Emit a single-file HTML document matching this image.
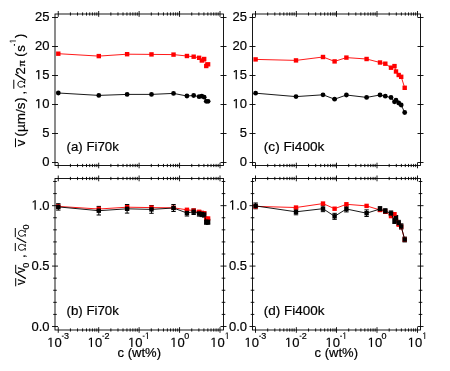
<!DOCTYPE html>
<html><head><meta charset="utf-8"><title>plot</title>
<style>
html,body{margin:0;padding:0;background:#fff;}
svg{display:block;will-change:transform;}
text{font-family:"Liberation Sans",sans-serif;fill:#000;stroke:#000;stroke-width:0.2px;}
.sy{font-family:"Liberation Serif",serif;stroke:none;}
</style></head>
<body>
<svg width="450" height="371" viewBox="0 0 450 371">
<rect x="0" y="0" width="450" height="371" fill="#fff"/>
<g stroke="#000" stroke-width="0.9" fill="none">
<rect x="55.0" y="14.0" width="168.5" height="151.5"/>
<path d="M58.25 11.0V16.8M58.25 162.7V168.3M70.42 12.4V15.6M70.42 163.9V167.1M77.54 12.4V15.6M77.54 163.9V167.1M82.60 12.4V15.6M82.60 163.9V167.1M86.51 12.4V15.6M86.51 163.9V167.1M89.72 12.4V15.6M89.72 163.9V167.1M92.42 12.4V15.6M92.42 163.9V167.1M94.77 12.4V15.6M94.77 163.9V167.1M96.84 12.4V15.6M96.84 163.9V167.1M98.69 11.0V16.8M98.69 162.7V168.3M110.86 12.4V15.6M110.86 163.9V167.1M117.98 12.4V15.6M117.98 163.9V167.1M123.03 12.4V15.6M123.03 163.9V167.1M126.95 12.4V15.6M126.95 163.9V167.1M130.15 12.4V15.6M130.15 163.9V167.1M132.86 12.4V15.6M132.86 163.9V167.1M135.21 12.4V15.6M135.21 163.9V167.1M137.27 12.4V15.6M137.27 163.9V167.1M139.12 11.0V16.8M139.12 162.7V168.3M151.30 12.4V15.6M151.30 163.9V167.1M158.42 12.4V15.6M158.42 163.9V167.1M163.47 12.4V15.6M163.47 163.9V167.1M167.39 12.4V15.6M167.39 163.9V167.1M170.59 12.4V15.6M170.59 163.9V167.1M173.30 12.4V15.6M173.30 163.9V167.1M175.64 12.4V15.6M175.64 163.9V167.1M177.71 12.4V15.6M177.71 163.9V167.1M179.56 11.0V16.8M179.56 162.7V168.3M191.74 12.4V15.6M191.74 163.9V167.1M198.86 12.4V15.6M198.86 163.9V167.1M203.91 12.4V15.6M203.91 163.9V167.1M207.83 12.4V15.6M207.83 163.9V167.1M211.03 12.4V15.6M211.03 163.9V167.1M213.74 12.4V15.6M213.74 163.9V167.1M216.08 12.4V15.6M216.08 163.9V167.1M218.15 12.4V15.6M218.15 163.9V167.1M220.00 11.0V16.8M220.00 162.7V168.3M52.0 162.50H58.0M220.5 162.50H226.5M52.0 133.50H58.0M220.5 133.50H226.5M52.0 104.50H58.0M220.5 104.50H226.5M52.0 75.50H58.0M220.5 75.50H226.5M52.0 46.50H58.0M220.5 46.50H226.5M52.0 17.50H58.0M220.5 17.50H226.5"/>
</g>
<text x="42.27" y="166.30" font-size="13">0</text>
<text x="42.27" y="137.30" font-size="13">5</text>
<path d="M38.13 98.95H39.38V108.30H38.13Z" fill="#000"/><path d="M38.28 99.45L36.31 100.95" stroke="#000" stroke-width="1.10" fill="none"/><text x="42.27" y="108.30" font-size="13">0</text>
<path d="M38.13 69.95H39.38V79.30H38.13Z" fill="#000"/><path d="M38.28 70.45L36.31 71.95" stroke="#000" stroke-width="1.10" fill="none"/><text x="42.27" y="79.30" font-size="13">5</text>
<text x="35.04" y="50.30" font-size="13">20</text>
<text x="35.04" y="21.30" font-size="13">25</text>
<g stroke="#000" stroke-width="0.9" fill="none">
<rect x="252.5" y="14.0" width="168.0" height="151.5"/>
<path d="M255.50 11.0V16.8M255.50 162.7V168.3M267.69 12.4V15.6M267.69 163.9V167.1M274.82 12.4V15.6M274.82 163.9V167.1M279.88 12.4V15.6M279.88 163.9V167.1M283.81 12.4V15.6M283.81 163.9V167.1M287.02 12.4V15.6M287.02 163.9V167.1M289.73 12.4V15.6M289.73 163.9V167.1M292.08 12.4V15.6M292.08 163.9V167.1M294.15 12.4V15.6M294.15 163.9V167.1M296.35 11.0V16.8M296.35 162.7V168.3M308.54 12.4V15.6M308.54 163.9V167.1M315.67 12.4V15.6M315.67 163.9V167.1M320.73 12.4V15.6M320.73 163.9V167.1M324.66 12.4V15.6M324.66 163.9V167.1M327.87 12.4V15.6M327.87 163.9V167.1M330.58 12.4V15.6M330.58 163.9V167.1M332.93 12.4V15.6M332.93 163.9V167.1M335.00 12.4V15.6M335.00 163.9V167.1M336.50 11.0V16.8M336.50 162.7V168.3M348.69 12.4V15.6M348.69 163.9V167.1M355.82 12.4V15.6M355.82 163.9V167.1M360.88 12.4V15.6M360.88 163.9V167.1M364.81 12.4V15.6M364.81 163.9V167.1M368.02 12.4V15.6M368.02 163.9V167.1M370.73 12.4V15.6M370.73 163.9V167.1M373.08 12.4V15.6M373.08 163.9V167.1M375.15 12.4V15.6M375.15 163.9V167.1M377.00 11.0V16.8M377.00 162.7V168.3M389.19 12.4V15.6M389.19 163.9V167.1M396.32 12.4V15.6M396.32 163.9V167.1M401.38 12.4V15.6M401.38 163.9V167.1M405.31 12.4V15.6M405.31 163.9V167.1M408.52 12.4V15.6M408.52 163.9V167.1M411.23 12.4V15.6M411.23 163.9V167.1M413.58 12.4V15.6M413.58 163.9V167.1M415.65 12.4V15.6M415.65 163.9V167.1M417.50 11.0V16.8M417.50 162.7V168.3M249.5 162.50H255.5M417.5 162.50H423.5M249.5 133.50H255.5M417.5 133.50H423.5M249.5 104.50H255.5M417.5 104.50H423.5M249.5 75.50H255.5M417.5 75.50H423.5M249.5 46.50H255.5M417.5 46.50H423.5M249.5 17.50H255.5M417.5 17.50H423.5"/>
</g>
<text x="239.77" y="166.30" font-size="13">0</text>
<text x="239.77" y="137.30" font-size="13">5</text>
<path d="M235.63 98.95H236.88V108.30H235.63Z" fill="#000"/><path d="M235.78 99.45L233.81 100.95" stroke="#000" stroke-width="1.10" fill="none"/><text x="239.77" y="108.30" font-size="13">0</text>
<path d="M235.63 69.95H236.88V79.30H235.63Z" fill="#000"/><path d="M235.78 70.45L233.81 71.95" stroke="#000" stroke-width="1.10" fill="none"/><text x="239.77" y="79.30" font-size="13">5</text>
<text x="232.54" y="50.30" font-size="13">20</text>
<text x="232.54" y="21.30" font-size="13">25</text>
<g stroke="#000" stroke-width="0.9" fill="none">
<rect x="55.0" y="178.5" width="168.5" height="151.5"/>
<path d="M58.25 175.5V181.3M58.25 327.2V332.8M70.42 176.9V180.1M70.42 328.4V331.6M77.54 176.9V180.1M77.54 328.4V331.6M82.60 176.9V180.1M82.60 328.4V331.6M86.51 176.9V180.1M86.51 328.4V331.6M89.72 176.9V180.1M89.72 328.4V331.6M92.42 176.9V180.1M92.42 328.4V331.6M94.77 176.9V180.1M94.77 328.4V331.6M96.84 176.9V180.1M96.84 328.4V331.6M98.69 175.5V181.3M98.69 327.2V332.8M110.86 176.9V180.1M110.86 328.4V331.6M117.98 176.9V180.1M117.98 328.4V331.6M123.03 176.9V180.1M123.03 328.4V331.6M126.95 176.9V180.1M126.95 328.4V331.6M130.15 176.9V180.1M130.15 328.4V331.6M132.86 176.9V180.1M132.86 328.4V331.6M135.21 176.9V180.1M135.21 328.4V331.6M137.27 176.9V180.1M137.27 328.4V331.6M139.12 175.5V181.3M139.12 327.2V332.8M151.30 176.9V180.1M151.30 328.4V331.6M158.42 176.9V180.1M158.42 328.4V331.6M163.47 176.9V180.1M163.47 328.4V331.6M167.39 176.9V180.1M167.39 328.4V331.6M170.59 176.9V180.1M170.59 328.4V331.6M173.30 176.9V180.1M173.30 328.4V331.6M175.64 176.9V180.1M175.64 328.4V331.6M177.71 176.9V180.1M177.71 328.4V331.6M179.56 175.5V181.3M179.56 327.2V332.8M191.74 176.9V180.1M191.74 328.4V331.6M198.86 176.9V180.1M198.86 328.4V331.6M203.91 176.9V180.1M203.91 328.4V331.6M207.83 176.9V180.1M207.83 328.4V331.6M211.03 176.9V180.1M211.03 328.4V331.6M213.74 176.9V180.1M213.74 328.4V331.6M216.08 176.9V180.1M216.08 328.4V331.6M218.15 176.9V180.1M218.15 328.4V331.6M220.00 175.5V181.3M220.00 327.2V332.8M52.0 326.50H58.0M220.5 326.50H226.5M52.0 266.08H58.0M220.5 266.08H226.5M52.0 205.67H58.0M220.5 205.67H226.5M53.2 314.42H56.8M221.7 314.42H225.3M53.2 302.33H56.8M221.7 302.33H225.3M53.2 290.25H56.8M221.7 290.25H225.3M53.2 278.17H56.8M221.7 278.17H225.3M53.2 254.00H56.8M221.7 254.00H225.3M53.2 241.92H56.8M221.7 241.92H225.3M53.2 229.83H56.8M221.7 229.83H225.3M53.2 217.75H56.8M221.7 217.75H225.3M53.2 193.58H56.8M221.7 193.58H225.3M53.2 181.50H56.8M221.7 181.50H225.3"/>
</g>
<text x="31.43" y="330.50" font-size="13">0.0</text>
<text x="31.43" y="270.08" font-size="13">0.5</text>
<path d="M34.52 200.32H35.77V209.67H34.52Z" fill="#000"/><path d="M34.67 200.82L32.70 202.32" stroke="#000" stroke-width="1.10" fill="none"/><text x="38.66" y="209.67" font-size="13">.0</text>
<path d="M50.34 337.65H51.59V347.00H50.34Z" fill="#000"/><path d="M50.49 338.15L48.52 339.65" stroke="#000" stroke-width="1.10" fill="none"/><text x="54.48" y="347.00" font-size="13">0</text>
<path d="M61.85 336.20h1.9" stroke="#000" stroke-width="0.9"/>
<text x="63.95" y="339.00" font-size="9.0">3</text>
<path d="M90.78 337.65H92.03V347.00H90.78Z" fill="#000"/><path d="M90.93 338.15L88.96 339.65" stroke="#000" stroke-width="1.10" fill="none"/><text x="94.92" y="347.00" font-size="13">0</text>
<path d="M102.29 336.20h1.9" stroke="#000" stroke-width="0.9"/>
<text x="104.39" y="339.00" font-size="9.0">2</text>
<path d="M131.22 337.65H132.47V347.00H131.22Z" fill="#000"/><path d="M131.37 338.15L129.40 339.65" stroke="#000" stroke-width="1.10" fill="none"/><text x="135.36" y="347.00" font-size="13">0</text>
<path d="M142.72 336.20h1.9" stroke="#000" stroke-width="0.9"/>
<path d="M146.97 332.53H147.83V339.00H146.97Z" fill="#000"/><path d="M147.07 332.87L145.70 333.91" stroke="#000" stroke-width="0.76" fill="none"/>
<path d="M173.36 337.65H174.61V347.00H173.36Z" fill="#000"/><path d="M173.51 338.15L171.53 339.65" stroke="#000" stroke-width="1.10" fill="none"/><text x="177.49" y="347.00" font-size="13">0</text>
<text x="184.16" y="339.00" font-size="9.0">0</text>
<path d="M213.40 337.65H214.65V347.00H213.40Z" fill="#000"/><path d="M213.55 338.15L211.57 339.65" stroke="#000" stroke-width="1.10" fill="none"/><text x="217.53" y="347.00" font-size="13">0</text>
<path d="M226.84 332.53H227.71V339.00H226.84Z" fill="#000"/><path d="M226.95 332.87L225.58 333.91" stroke="#000" stroke-width="0.76" fill="none"/>
<g stroke="#000" stroke-width="0.9" fill="none">
<rect x="252.5" y="178.5" width="168.0" height="151.5"/>
<path d="M255.50 175.5V181.3M255.50 327.2V332.8M267.69 176.9V180.1M267.69 328.4V331.6M274.82 176.9V180.1M274.82 328.4V331.6M279.88 176.9V180.1M279.88 328.4V331.6M283.81 176.9V180.1M283.81 328.4V331.6M287.02 176.9V180.1M287.02 328.4V331.6M289.73 176.9V180.1M289.73 328.4V331.6M292.08 176.9V180.1M292.08 328.4V331.6M294.15 176.9V180.1M294.15 328.4V331.6M296.35 175.5V181.3M296.35 327.2V332.8M308.54 176.9V180.1M308.54 328.4V331.6M315.67 176.9V180.1M315.67 328.4V331.6M320.73 176.9V180.1M320.73 328.4V331.6M324.66 176.9V180.1M324.66 328.4V331.6M327.87 176.9V180.1M327.87 328.4V331.6M330.58 176.9V180.1M330.58 328.4V331.6M332.93 176.9V180.1M332.93 328.4V331.6M335.00 176.9V180.1M335.00 328.4V331.6M336.50 175.5V181.3M336.50 327.2V332.8M348.69 176.9V180.1M348.69 328.4V331.6M355.82 176.9V180.1M355.82 328.4V331.6M360.88 176.9V180.1M360.88 328.4V331.6M364.81 176.9V180.1M364.81 328.4V331.6M368.02 176.9V180.1M368.02 328.4V331.6M370.73 176.9V180.1M370.73 328.4V331.6M373.08 176.9V180.1M373.08 328.4V331.6M375.15 176.9V180.1M375.15 328.4V331.6M377.00 175.5V181.3M377.00 327.2V332.8M389.19 176.9V180.1M389.19 328.4V331.6M396.32 176.9V180.1M396.32 328.4V331.6M401.38 176.9V180.1M401.38 328.4V331.6M405.31 176.9V180.1M405.31 328.4V331.6M408.52 176.9V180.1M408.52 328.4V331.6M411.23 176.9V180.1M411.23 328.4V331.6M413.58 176.9V180.1M413.58 328.4V331.6M415.65 176.9V180.1M415.65 328.4V331.6M417.50 175.5V181.3M417.50 327.2V332.8M249.5 326.50H255.5M417.5 326.50H423.5M249.5 266.08H255.5M417.5 266.08H423.5M249.5 205.67H255.5M417.5 205.67H423.5M250.7 314.42H254.3M418.7 314.42H422.3M250.7 302.33H254.3M418.7 302.33H422.3M250.7 290.25H254.3M418.7 290.25H422.3M250.7 278.17H254.3M418.7 278.17H422.3M250.7 254.00H254.3M418.7 254.00H422.3M250.7 241.92H254.3M418.7 241.92H422.3M250.7 229.83H254.3M418.7 229.83H422.3M250.7 217.75H254.3M418.7 217.75H422.3M250.7 193.58H254.3M418.7 193.58H422.3M250.7 181.50H254.3M418.7 181.50H422.3"/>
</g>
<text x="228.93" y="330.50" font-size="13">0.0</text>
<text x="228.93" y="270.08" font-size="13">0.5</text>
<path d="M232.02 200.32H233.27V209.67H232.02Z" fill="#000"/><path d="M232.17 200.82L230.20 202.32" stroke="#000" stroke-width="1.10" fill="none"/><text x="236.16" y="209.67" font-size="13">.0</text>
<path d="M247.59 337.65H248.84V347.00H247.59Z" fill="#000"/><path d="M247.75 338.15L245.77 339.65" stroke="#000" stroke-width="1.10" fill="none"/><text x="251.73" y="347.00" font-size="13">0</text>
<path d="M259.10 336.20h1.9" stroke="#000" stroke-width="0.9"/>
<text x="261.20" y="339.00" font-size="9.0">3</text>
<path d="M288.10 337.65H289.35V347.00H288.10Z" fill="#000"/><path d="M288.25 338.15L286.27 339.65" stroke="#000" stroke-width="1.10" fill="none"/><text x="292.23" y="347.00" font-size="13">0</text>
<path d="M299.60 336.20h1.9" stroke="#000" stroke-width="0.9"/>
<text x="301.70" y="339.00" font-size="9.0">2</text>
<path d="M328.60 337.65H329.85V347.00H328.60Z" fill="#000"/><path d="M328.75 338.15L326.77 339.65" stroke="#000" stroke-width="1.10" fill="none"/><text x="332.73" y="347.00" font-size="13">0</text>
<path d="M340.10 336.20h1.9" stroke="#000" stroke-width="0.9"/>
<path d="M344.34 332.53H345.21V339.00H344.34Z" fill="#000"/><path d="M344.45 332.87L343.08 333.91" stroke="#000" stroke-width="0.76" fill="none"/>
<path d="M370.80 337.65H372.05V347.00H370.80Z" fill="#000"/><path d="M370.94 338.15L368.97 339.65" stroke="#000" stroke-width="1.10" fill="none"/><text x="374.93" y="347.00" font-size="13">0</text>
<text x="381.60" y="339.00" font-size="9.0">0</text>
<path d="M410.90 337.65H412.15V347.00H410.90Z" fill="#000"/><path d="M411.05 338.15L409.07 339.65" stroke="#000" stroke-width="1.10" fill="none"/><text x="415.03" y="347.00" font-size="13">0</text>
<path d="M424.34 332.53H425.21V339.00H424.34Z" fill="#000"/><path d="M424.45 332.87L423.08 333.91" stroke="#000" stroke-width="0.76" fill="none"/>
<polyline points="58.3,53.7 98.8,56.1 127.1,54.2 151.5,54.4 173.5,54.6 186.9,56.0 193.7,56.7 199.1,57.8 201.8,60.5 204.2,59.0 206.3,66.0 208.1,64.3" fill="none" stroke="#ff0000" stroke-width="0.9"/>
<g fill="#ff0000"><rect x="56.10" y="51.50" width="4.4" height="4.4"/><rect x="96.60" y="53.90" width="4.4" height="4.4"/><rect x="124.91" y="52.00" width="4.4" height="4.4"/><rect x="149.29" y="52.20" width="4.4" height="4.4"/><rect x="171.33" y="52.40" width="4.4" height="4.4"/><rect x="184.73" y="53.80" width="4.4" height="4.4"/><rect x="191.47" y="54.50" width="4.4" height="4.4"/><rect x="196.92" y="55.60" width="4.4" height="4.4"/><rect x="199.63" y="58.30" width="4.4" height="4.4"/><rect x="201.98" y="56.80" width="4.4" height="4.4"/><rect x="204.06" y="63.80" width="4.4" height="4.4"/><rect x="205.91" y="62.10" width="4.4" height="4.4"/></g>
<polyline points="58.3,93.0 98.8,95.4 127.1,94.4 151.5,94.4 173.5,93.4 186.9,96.0 193.7,95.5 199.1,96.7 201.8,96.2 204.2,97.2 206.3,101.3 208.1,101.3" fill="none" stroke="#000" stroke-width="0.9"/>
<g fill="#000"><circle cx="58.30" cy="93.00" r="2.4"/><circle cx="98.80" cy="95.40" r="2.4"/><circle cx="127.11" cy="94.40" r="2.4"/><circle cx="151.49" cy="94.40" r="2.4"/><circle cx="173.53" cy="93.40" r="2.4"/><circle cx="186.93" cy="96.00" r="2.4"/><circle cx="193.67" cy="95.50" r="2.4"/><circle cx="199.12" cy="96.70" r="2.4"/><circle cx="201.83" cy="96.20" r="2.4"/><circle cx="204.18" cy="97.20" r="2.4"/><circle cx="206.26" cy="101.30" r="2.4"/><circle cx="208.11" cy="101.30" r="2.4"/></g>
<polyline points="255.6,59.4 296.0,60.4 323.0,57.0 334.6,61.4 346.4,57.6 366.6,59.0 380.0,62.5 385.3,63.7 391.0,67.7 394.5,66.1 396.0,71.5 398.7,75.0 401.2,76.8 404.7,87.8" fill="none" stroke="#ff0000" stroke-width="0.9"/>
<g fill="#ff0000"><rect x="253.40" y="57.20" width="4.4" height="4.4"/><rect x="293.80" y="58.20" width="4.4" height="4.4"/><rect x="320.80" y="54.80" width="4.4" height="4.4"/><rect x="332.40" y="59.20" width="4.4" height="4.4"/><rect x="344.20" y="55.40" width="4.4" height="4.4"/><rect x="364.40" y="56.80" width="4.4" height="4.4"/><rect x="377.80" y="60.30" width="4.4" height="4.4"/><rect x="383.10" y="61.50" width="4.4" height="4.4"/><rect x="388.80" y="65.50" width="4.4" height="4.4"/><rect x="392.30" y="63.90" width="4.4" height="4.4"/><rect x="393.80" y="69.30" width="4.4" height="4.4"/><rect x="396.50" y="72.80" width="4.4" height="4.4"/><rect x="399.00" y="74.60" width="4.4" height="4.4"/><rect x="402.50" y="85.60" width="4.4" height="4.4"/></g>
<polyline points="255.6,93.2 296.0,96.6 323.0,94.8 334.6,99.2 346.4,95.0 366.6,97.4 380.0,95.0 385.3,96.2 391.0,97.5 394.5,101.8 396.0,100.2 398.7,103.0 401.2,105.0 404.7,112.5" fill="none" stroke="#000" stroke-width="0.9"/>
<g fill="#000"><circle cx="255.60" cy="93.20" r="2.4"/><circle cx="296.00" cy="96.60" r="2.4"/><circle cx="323.00" cy="94.80" r="2.4"/><circle cx="334.60" cy="99.20" r="2.4"/><circle cx="346.40" cy="95.00" r="2.4"/><circle cx="366.60" cy="97.40" r="2.4"/><circle cx="380.00" cy="95.00" r="2.4"/><circle cx="385.30" cy="96.20" r="2.4"/><circle cx="391.00" cy="97.50" r="2.4"/><circle cx="394.50" cy="101.80" r="2.4"/><circle cx="396.00" cy="100.20" r="2.4"/><circle cx="398.70" cy="103.00" r="2.4"/><circle cx="401.20" cy="105.00" r="2.4"/><circle cx="404.70" cy="112.50" r="2.4"/></g>
<path d="M58.30 203.70V210.10M56.10 203.70H60.50M56.10 210.10H60.50M98.80 206.40V215.00M96.60 206.40H101.00M96.60 215.00H101.00M127.11 204.50V213.10M124.91 204.50H129.31M124.91 213.10H129.31M151.49 205.50V213.30M149.29 205.50H153.69M149.29 213.30H153.69M173.53 204.50V211.50M171.33 204.50H175.73M171.33 211.50H175.73M186.93 210.00V216.00M184.73 210.00H189.13M184.73 216.00H189.13M193.67 208.90V214.50M191.47 208.90H195.87M191.47 214.50H195.87M199.12 210.90V216.10M196.92 210.90H201.32M196.92 216.10H201.32M201.83 211.40V216.60M199.63 211.40H204.03M199.63 216.60H204.03M204.18 211.90V217.10M201.98 211.90H206.38M201.98 217.10H206.38M206.26 219.30V224.30M204.06 219.30H208.46M204.06 224.30H208.46M208.11 219.30V224.30M205.91 219.30H210.31M205.91 224.30H210.31" stroke="#000" stroke-width="1" fill="none"/>
<polyline points="58.3,206.4 98.8,209.0 127.1,207.2 151.5,207.6 173.5,207.8 186.9,209.8 193.7,210.6 199.1,211.8 201.8,213.0 204.2,213.3 206.3,218.8 208.1,218.5" fill="none" stroke="#ff0000" stroke-width="0.9"/>
<g fill="#ff0000"><rect x="56.10" y="204.20" width="4.4" height="4.4"/><rect x="96.60" y="206.80" width="4.4" height="4.4"/><rect x="124.91" y="205.00" width="4.4" height="4.4"/><rect x="149.29" y="205.40" width="4.4" height="4.4"/><rect x="171.33" y="205.60" width="4.4" height="4.4"/><rect x="184.73" y="207.60" width="4.4" height="4.4"/><rect x="191.47" y="208.40" width="4.4" height="4.4"/><rect x="196.92" y="209.60" width="4.4" height="4.4"/><rect x="199.63" y="210.80" width="4.4" height="4.4"/><rect x="201.98" y="211.10" width="4.4" height="4.4"/><rect x="204.06" y="216.60" width="4.4" height="4.4"/><rect x="205.91" y="216.30" width="4.4" height="4.4"/></g>
<polyline points="58.3,206.9 98.8,210.7 127.1,208.8 151.5,209.4 173.5,208.0 186.9,213.0 193.7,211.7 199.1,213.5 201.8,214.0 204.2,214.5 206.3,221.8 208.1,221.8" fill="none" stroke="#000" stroke-width="0.9"/>
<g fill="#000"><rect x="56.10" y="204.70" width="4.4" height="4.4"/><rect x="96.60" y="208.50" width="4.4" height="4.4"/><rect x="124.91" y="206.60" width="4.4" height="4.4"/><rect x="149.29" y="207.20" width="4.4" height="4.4"/><rect x="171.33" y="205.80" width="4.4" height="4.4"/><rect x="184.73" y="210.80" width="4.4" height="4.4"/><rect x="191.47" y="209.50" width="4.4" height="4.4"/><rect x="196.92" y="211.30" width="4.4" height="4.4"/><rect x="199.63" y="211.80" width="4.4" height="4.4"/><rect x="201.98" y="212.30" width="4.4" height="4.4"/><rect x="204.06" y="219.60" width="4.4" height="4.4"/><rect x="205.91" y="219.60" width="4.4" height="4.4"/></g>
<path d="M255.60 202.97V208.77M253.40 202.97H257.80M253.40 208.77H257.80M296.00 208.79V214.79M293.80 208.79H298.20M293.80 214.79H298.20M323.00 205.66V211.66M320.80 205.66H325.20M320.80 211.66H325.20M334.60 213.33V219.33M332.40 213.33H336.80M332.40 219.33H336.80M346.40 206.11V211.91M344.20 206.11H348.60M344.20 211.91H348.60M366.60 209.89V216.49M364.40 209.89H368.80M364.40 216.49H368.80M380.00 206.61V211.41M377.80 206.61H382.20M377.80 211.41H382.20M385.30 208.70V213.50M383.10 208.70H387.50M383.10 213.50H387.50M391.00 210.96V215.76M388.80 210.96H393.20M388.80 215.76H393.20M394.50 218.26V223.46M392.30 218.26H396.70M392.30 223.46H396.70M396.00 215.47V220.67M393.80 215.47H398.20M393.80 220.67H398.20M398.70 220.35V225.55M396.50 220.35H400.90M396.50 225.55H400.90M401.20 223.84V229.04M399.00 223.84H403.40M399.00 229.04H403.40M404.70 237.12V241.92M402.50 237.12H406.90M402.50 241.92H406.90" stroke="#000" stroke-width="1" fill="none"/>
<polyline points="255.6,206.4 296.0,207.5 323.0,203.6 334.6,208.7 346.4,204.3 366.6,205.9 380.0,210.0 385.3,211.4 391.0,216.1 394.5,214.2 396.0,220.5 398.7,224.6 401.2,226.8 404.7,239.7" fill="none" stroke="#ff0000" stroke-width="0.9"/>
<g fill="#ff0000"><rect x="253.40" y="204.17" width="4.4" height="4.4"/><rect x="293.80" y="205.34" width="4.4" height="4.4"/><rect x="320.80" y="201.35" width="4.4" height="4.4"/><rect x="332.40" y="206.51" width="4.4" height="4.4"/><rect x="344.20" y="202.06" width="4.4" height="4.4"/><rect x="364.40" y="203.70" width="4.4" height="4.4"/><rect x="377.80" y="207.80" width="4.4" height="4.4"/><rect x="383.10" y="209.21" width="4.4" height="4.4"/><rect x="388.80" y="213.89" width="4.4" height="4.4"/><rect x="392.30" y="212.02" width="4.4" height="4.4"/><rect x="393.80" y="218.35" width="4.4" height="4.4"/><rect x="396.50" y="222.45" width="4.4" height="4.4"/><rect x="399.00" y="224.56" width="4.4" height="4.4"/><rect x="402.50" y="237.45" width="4.4" height="4.4"/></g>
<polyline points="255.6,205.9 296.0,211.8 323.0,208.7 334.6,216.3 346.4,209.0 366.6,213.2 380.0,209.0 385.3,211.1 391.0,213.4 394.5,220.9 396.0,218.1 398.7,223.0 401.2,226.4 404.7,239.5" fill="none" stroke="#000" stroke-width="0.9"/>
<g fill="#000"><rect x="253.40" y="203.67" width="4.4" height="4.4"/><rect x="293.80" y="209.59" width="4.4" height="4.4"/><rect x="320.80" y="206.46" width="4.4" height="4.4"/><rect x="332.40" y="214.13" width="4.4" height="4.4"/><rect x="344.20" y="206.81" width="4.4" height="4.4"/><rect x="364.40" y="210.99" width="4.4" height="4.4"/><rect x="377.80" y="206.81" width="4.4" height="4.4"/><rect x="383.10" y="208.90" width="4.4" height="4.4"/><rect x="388.80" y="211.16" width="4.4" height="4.4"/><rect x="392.30" y="218.66" width="4.4" height="4.4"/><rect x="393.80" y="215.87" width="4.4" height="4.4"/><rect x="396.50" y="220.75" width="4.4" height="4.4"/><rect x="399.00" y="224.24" width="4.4" height="4.4"/><rect x="402.50" y="237.32" width="4.4" height="4.4"/></g>
<text x="66.5" y="150.8" font-size="13" textLength="52.4" lengthAdjust="spacingAndGlyphs">(a) Fi70k</text>
<text x="263.8" y="150.8" font-size="13" textLength="60.6" lengthAdjust="spacingAndGlyphs">(c) Fi400k</text>
<text x="66.5" y="315.2" font-size="13" textLength="52.4" lengthAdjust="spacingAndGlyphs">(b) Fi70k</text>
<text x="263.8" y="315.2" font-size="13" textLength="60.6" lengthAdjust="spacingAndGlyphs">(d) Fi400k</text>
<text x="117.6" y="356.6" font-size="13" textLength="43.4" lengthAdjust="spacingAndGlyphs">c (wt%)</text>
<text x="314.6" y="356.6" font-size="13" textLength="43.4" lengthAdjust="spacingAndGlyphs">c (wt%)</text>
<g transform="translate(25.3,147.3) rotate(-90)">
<text x="1.0" y="0" font-size="13">v</text>
<text x="10.9" y="-0.9" font-size="13">(</text>
<text x="15.2" y="0" font-size="13" textLength="29.5" lengthAdjust="spacingAndGlyphs">µm/s</text>
<text x="45.5" y="-0.9" font-size="13">)</text>
<text x="52.8" y="0" font-size="13">,</text>
<path transform="translate(59.60,-0.20)" d="M0.3 -0.5H2.7C1.1 -1.7 0.55 -3.0 0.55 -4.2C0.55 -6.1 1.8 -7.2 3.5 -7.2C5.2 -7.2 6.45 -6.1 6.45 -4.2C6.45 -3.0 5.9 -1.7 4.3 -0.5H6.7" stroke="#000" stroke-width="1" fill="none" stroke-linejoin="miter"/>
<text x="72.8" y="-0.3" font-size="13">2</text>
<text x="80.7" y="-0.3" font-size="10.5" class="sy" style="stroke:#000;stroke-width:0.3px" textLength="6.1" lengthAdjust="spacingAndGlyphs">π</text>
<text x="90.5" y="-1.6" font-size="13">(</text>
<text x="95.6" y="0" font-size="13">s</text>
<path d="M105.92 -15.51H106.74V-9.40H105.92Z" fill="#000"/><path d="M106.02 -15.19L104.73 -14.21" stroke="#000" stroke-width="0.72" fill="none"/>
<text x="109.2" y="-1.6" font-size="13">)</text>
<path d="M0.1 -9.8H9.0M58.5 -11.5H67.6M101.5 -10.9H103.3" stroke="#000" stroke-width="1" fill="none"/>
<path d="M66.9 0.1L73.3 -10.0" stroke="#000" stroke-width="1.25" fill="none"/>
</g>
<g transform="translate(25.4,285.1) rotate(-90)">
<text x="0.2" y="0" font-size="13" textLength="5.8" lengthAdjust="spacingAndGlyphs">v</text>
<text x="12.0" y="0" font-size="13" textLength="5.8" lengthAdjust="spacingAndGlyphs">v</text>
<text x="17.3" y="3.1" font-size="9">0</text>
<text x="27.2" y="0" font-size="13">,</text>
<path transform="translate(34.30,0.30)" d="M0.3 -0.5H2.7C1.1 -1.7 0.55 -3.0 0.55 -4.2C0.55 -6.1 1.8 -7.2 3.5 -7.2C5.2 -7.2 6.45 -6.1 6.45 -4.2C6.45 -3.0 5.9 -1.7 4.3 -0.5H6.7" stroke="#000" stroke-width="1" fill="none" stroke-linejoin="miter"/>
<path transform="translate(48.30,0.30)" d="M0.3 -0.5H2.7C1.1 -1.7 0.55 -3.0 0.55 -4.2C0.55 -6.1 1.8 -7.2 3.5 -7.2C5.2 -7.2 6.45 -6.1 6.45 -4.2C6.45 -3.0 5.9 -1.7 4.3 -0.5H6.7" stroke="#000" stroke-width="1" fill="none" stroke-linejoin="miter"/>
<text x="55.7" y="3.1" font-size="9">0</text>
<path d="M-1.2 -9.7H7.0M12.1 -9.7H20.3M34.0 -10.1H42.1M48.0 -10.1H57.1" stroke="#000" stroke-width="1" fill="none"/>
<path d="M6.5 0.4L12.4 -9.6M42.3 0.8L47.4 -8.7" stroke="#000" stroke-width="1.25" fill="none"/>
</g>
</svg>
</body></html>
